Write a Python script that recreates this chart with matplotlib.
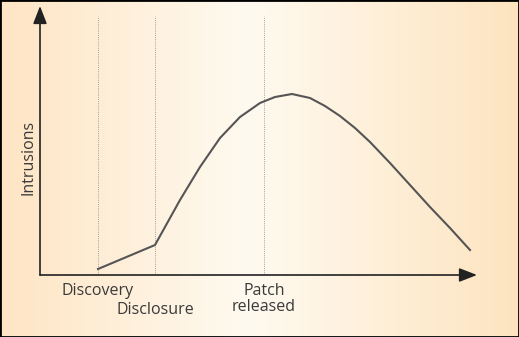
import numpy as np
import matplotlib.pyplot as plt
from matplotlib.colors import LinearSegmentedColormap
from matplotlib.patches import Rectangle

plt.rcParams['font.family'] = ['Open Sans', 'DejaVu Sans']

# curve (time, intrusions), arbitrary units
t = [58, 115, 125, 140, 160, 180, 200, 220, 235, 252, 270, 285, 300,
     315, 330, 350, 370, 390, 410, 430]
intrusions = [6, 30, 48, 75, 108, 137, 158, 172, 178, 181, 177, 169, 159,
              147, 133, 112, 90, 68, 47, 25]

events = ["Discovery", "Disclosure", "Patch\nreleased"]
event_t = [58, 115, 224]
label_y = [-16, -35, -24]

W, H = 519, 337
fig = plt.figure(figsize=(W/100, H/100), dpi=100)

# background gradient
bg = fig.add_axes([0, 0, 1, 1])
cmap = LinearSegmentedColormap.from_list("peach", [(0, "#fee5c4"), (0.48, "#fffaf0"), (1, "#fde4c0")])
bg.imshow(np.linspace(0, 1, 256)[None, :], aspect="auto", cmap=cmap, extent=[0, 1, 0, 1])
bg.set_axis_off()
fig.patches.append(Rectangle((0, 0), 1, 1, transform=fig.transFigure, fill=False,
                             edgecolor="black", linewidth=2))

ax = fig.add_axes([40/W, (H-275)/H, 437/W, 270/H])
ax.set_xlim(0, 437)
ax.set_ylim(0, 270)
ax.set_axis_off()
ax.patch.set_alpha(0)

arrow = dict(arrowstyle="-|>,head_length=0.9,head_width=0.35", color="#222222",
             lw=1.2, mutation_scale=12, shrinkA=0, shrinkB=0)
ax.annotate("", xy=(437, 0), xytext=(0, 0), arrowprops=arrow, annotation_clip=False)
ax.annotate("", xy=(0, 269), xytext=(0, 0), arrowprops=arrow, annotation_clip=False)

for x in event_t:
    ax.plot([x, x], [0, 259], color="#a0a0a0", lw=0.7, ls=(0, (1, 1.2)))

ax.plot(t, intrusions, color="#555555", lw=1.5, solid_joinstyle="round")

for name, x, y in zip(events, event_t, label_y):
    ax.text(x, y, name, ha="center", va="center", fontsize=11.5, color="#3a3a3a",
            linespacing=1.05, clip_on=False)

ax.text(-12, 118, "Intrusions", rotation=90, ha="center", va="center",
        fontsize=11.5, color="#3a3a3a", clip_on=False)

fig.savefig("out.png", dpi=100)
